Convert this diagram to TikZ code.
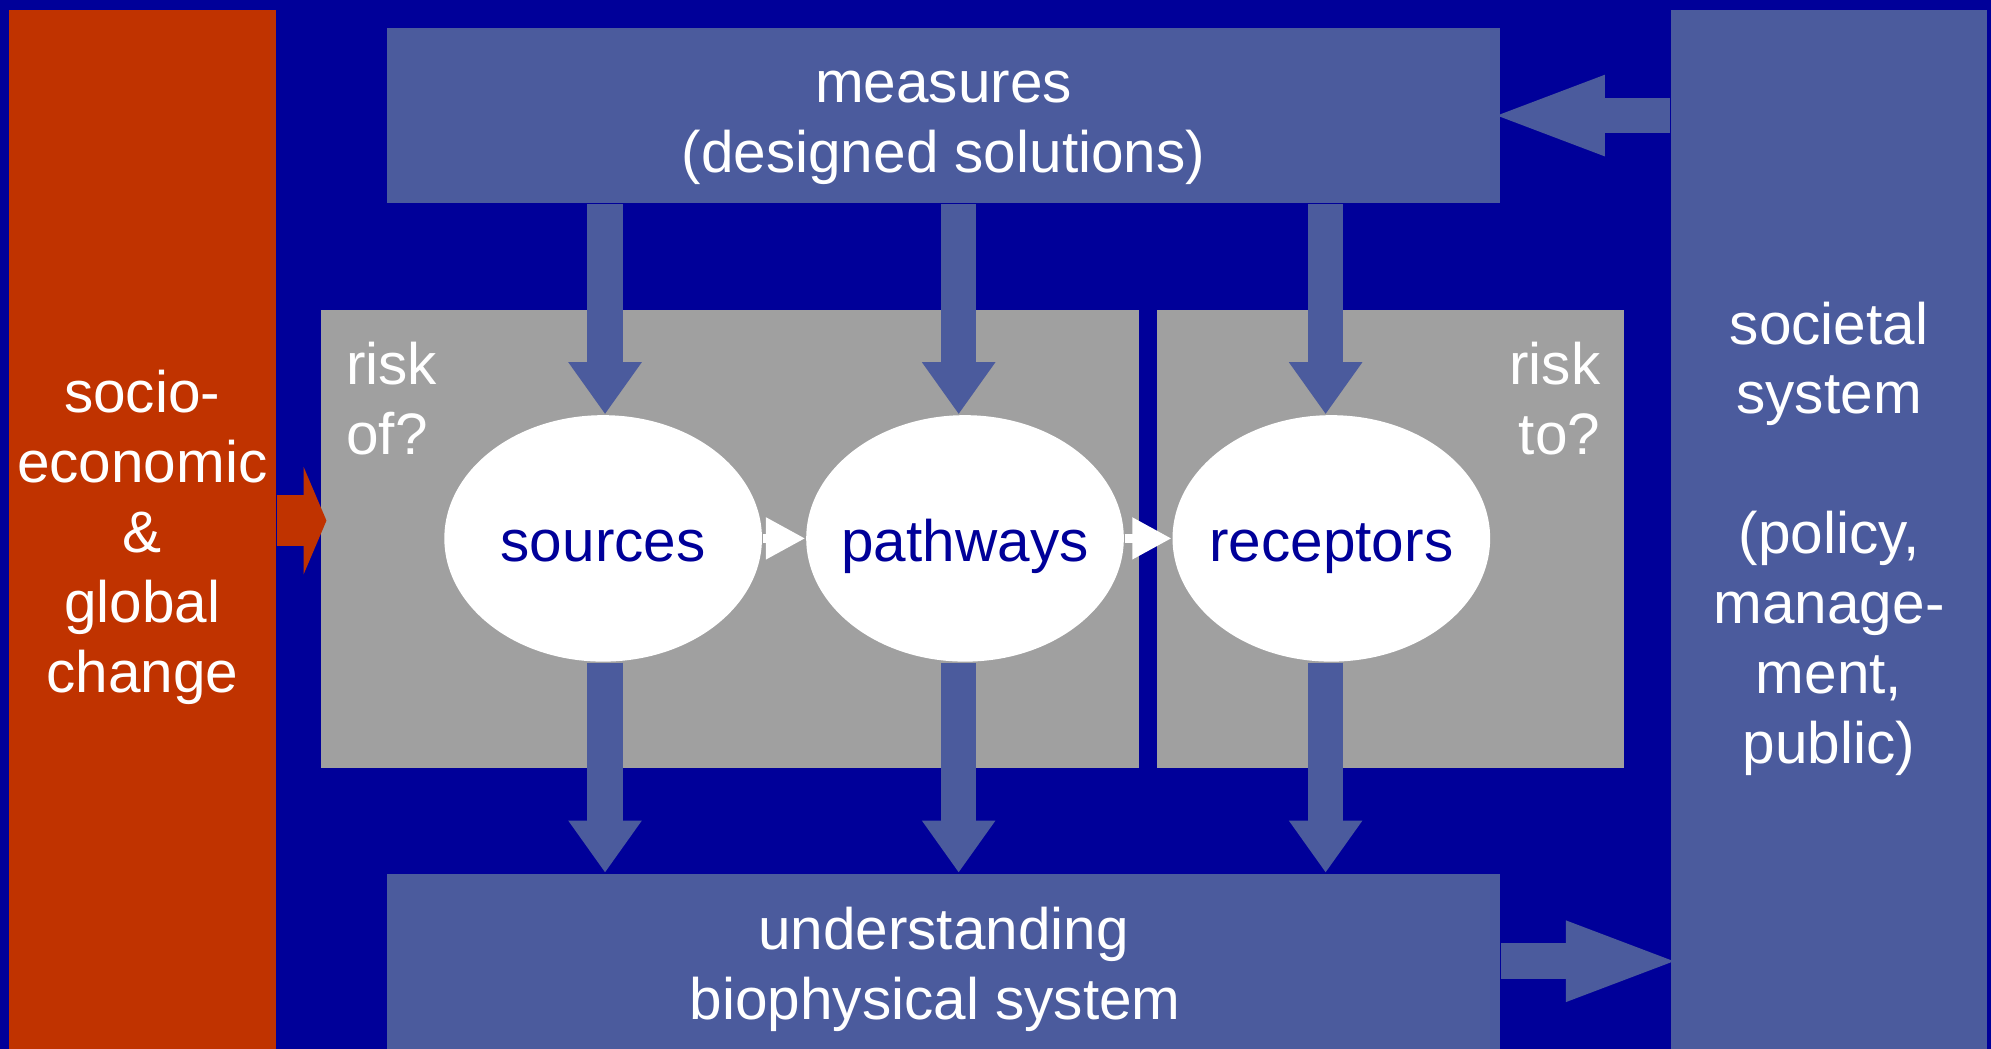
\documentclass[tikz,border=0pt]{standalone}
\usepackage{fontspec}
\setmainfont{Liberation Sans}
\usetikzlibrary{shapes.geometric,arrows.meta}
\definecolor{bgblue}{RGB}{0,0,153}
\definecolor{boxblue}{RGB}{75,91,157}
\definecolor{riskgrey}{RGB}{160,160,160}
\definecolor{socioorange}{RGB}{192,51,0}

\begin{document}
\begin{tikzpicture}[x=0.01cm,y=-0.01cm,
	txt/.style={text=white,font=\fontsize{13.1}{15.65}\selectfont,align=center,inner sep=0pt},
	box/.style={txt,fill=boxblue,text depth=0pt},
	riskbox/.style={fill=riskgrey,inner sep=0pt,minimum height=3.61cm},
	blob/.style={ellipse,fill=white,text=bgblue,font=\fontsize{13.1}{15.65}\selectfont,inner sep=0pt,text height=.36cm,text depth=0pt,minimum width=2.5cm,minimum height=1.94cm},
	down/.style={boxblue,line width=.28cm,-{Triangle[width=.55cm,length=.41cm]}},
	side/.style={boxblue,line width=.28cm,shorten >=-.1cm,-{Triangle[width=.56cm,length=.92cm]}},
	link/.style={white,line width=.075cm,-{Triangle[width=.31cm,length=.31cm]}},
	feed/.style={socioorange,line width=.4cm,-{Triangle[width=.84cm,length=.18cm]}}]
	\fill[bgblue] (0,0) rectangle (1568,826);
	\useasboundingbox (0,0) rectangle (1568,826);
	% outer boxes
	\node[box,fill=socioorange,text height=2.56cm,minimum width=2.1cm,minimum height=8.18cm] (socio) at (112,417) {socio-\\economic\\\&\\global\\change};
	\node[box,text height=.9cm,minimum width=8.76cm,minimum height=1.38cm] (measures) at (743,91) {measures\\(designed solutions)};
	\node[box,text height=.92cm,minimum width=8.76cm,minimum height=1.38cm] (understanding) at (743,757) {understanding\\biophysical system\hspace*{.28em}};
	\node[box,text height=3.68cm,minimum width=2.49cm,minimum height=8.18cm] (societal) at (1440.5,417) {societal\\system\\[.55cm](policy,\\manage-\\ment,\\public)};
	% risk areas
	\node[riskbox,minimum width=6.44cm] (riskof) at (575,424.5) {};
	\node[riskbox,minimum width=3.68cm] (riskto) at (1095,424.5) {};
	\node[txt,align=left,anchor=north west] (riskoftext) at (272,269) {risk\\of?};
	\node[txt,align=right,anchor=north east] (risktotext) at (1261,269) {risk\\to?};
	% chain
	\node[blob] (sources) at (475,424) {\makebox[0pt]{sources}};
	\node[blob] (pathways) at (760,424) {\makebox[0pt]{pathways}};
	\node[blob] (receptors) at (1048.5,424) {\makebox[0pt]{receptors}};
	\coordinate (feedin) at ([xshift=.05cm,yshift=.145cm]riskof.west);
	\coordinate (srcx) at ([xshift=.015cm]sources.center);
	\coordinate (pathx) at ([xshift=-.05cm]pathways.center);
	\coordinate (recx) at ([xshift=-.045cm]receptors.center);
	\path[link]
		(sources) edge (pathways)
		(pathways) edge (receptors);
	\path[down]
		(measures.south -| srcx) edge (sources.north -| srcx)
		(measures.south -| pathx) edge (pathways.north -| pathx)
		(measures.south -| recx) edge (receptors.north -| recx)
		(sources.south -| srcx) edge (understanding.north -| srcx)
		(pathways.south -| pathx) edge (understanding.north -| pathx)
		(receptors.south -| recx) edge (understanding.north -| recx);
	\draw[side] (measures.east -| societal.west) -- (measures.east);
	\draw[side] (understanding.east -| measures.east) -- (understanding.east -| societal.west);
	\draw[feed] (socio.east |- feedin) -- (feedin);
\end{tikzpicture}
\end{document}
